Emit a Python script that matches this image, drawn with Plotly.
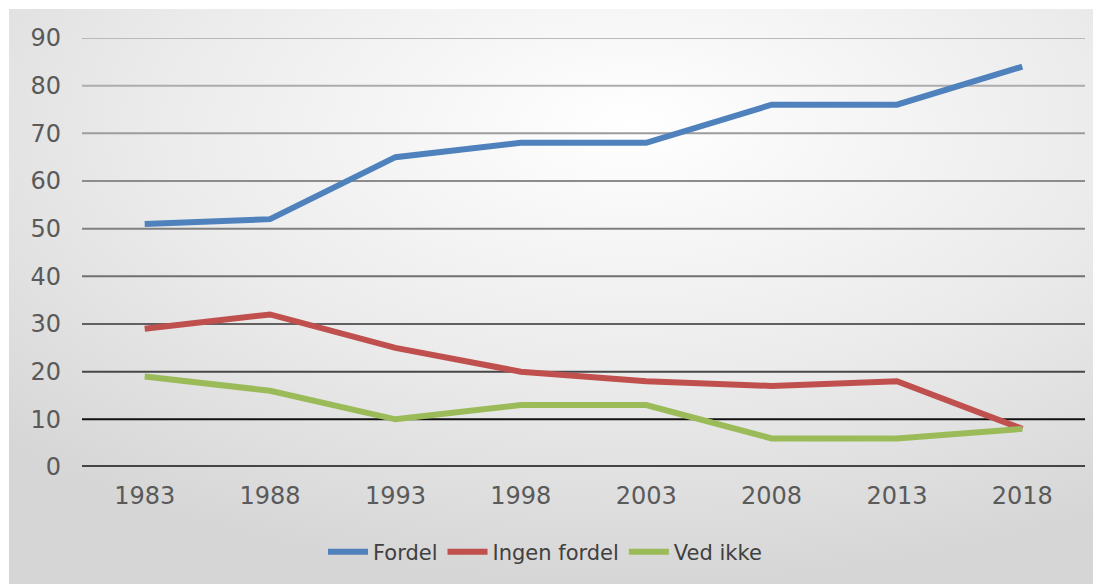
import base64
import plotly.graph_objects as go

years = ["1983", "1988", "1993", "1998", "2003", "2008", "2013", "2018"]
fordel = [51, 52, 65, 68, 68, 76, 76, 84]
ingen_fordel = [29, 32, 25, 20, 18, 17, 18, 8]
ved_ikke = [19, 16, 10, 13, 13, 6, 6, 8]
series_names = ["Fordel", "Ingen fordel", "Ved ikke"]
colors = ["#4f81bd", "#c0504d", "#9bbb59"]
grid_vals = [10, 20, 30, 40, 50, 60, 70, 80, 90]
grid_colors = ["#111111", "#474747", "#606060", "#707070", "#808080", "#8c8c8c", "#9c9c9c", "#acacac", "#bababa"]

svg = ('<svg xmlns="http://www.w3.org/2000/svg" width="1092" height="575" viewBox="0 0 1092 575" preserveAspectRatio="none">'
       '<defs><radialGradient id="g" cx="0.57" cy="0.2" r="0.8" gradientUnits="objectBoundingBox">'
       '<stop offset="0" stop-color="#ffffff"/><stop offset="0.55" stop-color="#ebebeb"/><stop offset="1" stop-color="#d6d6d6"/>'
       '</radialGradient></defs><rect width="1092" height="575" fill="url(#g)"/></svg>')
src = "data:image/svg+xml;base64," + base64.b64encode(svg.encode()).decode()

fig = go.Figure()
for name, vals, c in zip(series_names, [fordel, ingen_fordel, ved_ikke], colors):
    fig.add_trace(go.Scatter(x=years, y=vals, mode="lines", name=name,
                             line=dict(color=c, width=6)))

shapes = []
for v, gc in zip(grid_vals, grid_colors):
    shapes.append(dict(type="line", xref="paper", x0=0, x1=1, yref="y", y0=v, y1=v,
                       line=dict(color=gc, width=2), layer="below"))
shapes.append(dict(type="line", xref="paper", x0=0, x1=1, yref="y", y0=0, y1=0,
                   line=dict(color="#454545", width=4), layer="below"))

W, H = 1093, 576
L, R, T, B = 74, 16, 30, 117
pw, ph = W - L - R, H - T - B

fig.update_layout(
    width=W, height=H,
    margin=dict(l=L, r=R, t=T, b=B, pad=0),
    paper_bgcolor="white", plot_bgcolor="rgba(0,0,0,0)",
    font=dict(family="DejaVu Sans", color="#5a5a5a", size=24),
    shapes=shapes,
    images=[dict(source=src, xref="paper", yref="paper",
                 x=(1 - L) / pw, y=(H - B - 1) / ph,
                 sizex=(W - 1) / pw, sizey=(H - 1) / ph,
                 sizing="stretch", layer="below", xanchor="left", yanchor="top")],
    xaxis=dict(range=[-0.5, 7.5], showgrid=False, zeroline=False, showline=False, ticks="",
               tickfont=dict(size=24, color="#5a5a5a"), ticklabelstandoff=12),
    yaxis=dict(range=[0, 90], dtick=10, showgrid=False, zeroline=False, showline=False,
               ticks="", tickfont=dict(size=24, color="#5a5a5a"), ticklabelstandoff=20),
    legend=dict(orientation="h", x=(537 - L) / pw, xanchor="center", y=(H - B - 544) / ph, yanchor="middle",
                font=dict(size=21, color="#404040"), bgcolor="rgba(0,0,0,0)",
                itemwidth=40, tracegroupgap=0),
    showlegend=True,
)

fig.write_html("out.html")
